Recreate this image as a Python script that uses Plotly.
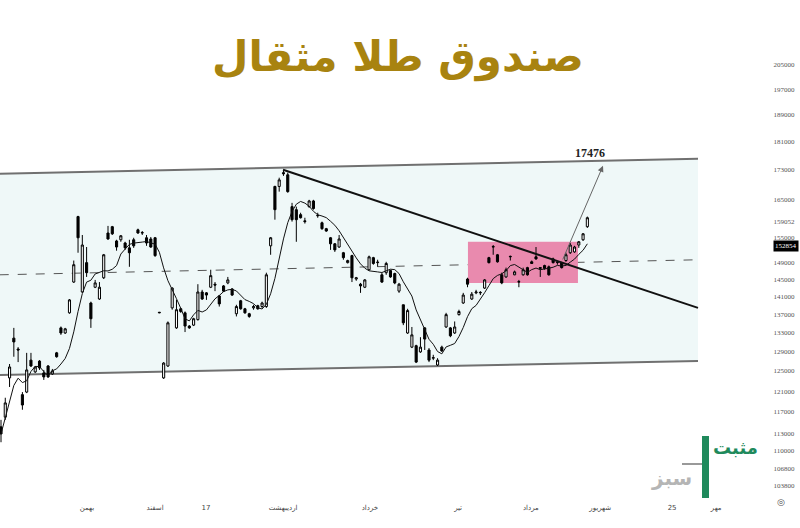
import math
import pandas as pd
import plotly.graph_objects as go

# ---------------- data ----------------
opens = [114200,116000,123600,131800,129500,120300,120800,127200,124800,127000,
         124600,126000,124400,128700,134000,132900,137300,144300,160400,142000,
         148900,139500,143100,140400,145300,156200,157800,154200,154500,153700,
         152500,154500,157000,156200,155000,154700,155000,137300,123600,126000,
         138400,134000,138200,137300,134400,134600,135800,142000,141800,143100,
         143800,141100,143400,144100,142700,137100,140000,138200,137100,138400,
         138900,138700,138700,153000,168400,168400,172200,171600,163000,162200,
         160900,159300,163000,164500,160600,158800,157300,155000,153500,152700,
         151300,148900,150600,145000,143800,143100,147200,150100,148900,146000,
         146500,147000,146300,142200,139100,132900,129900,130200,128900,134000,
         129300,127600,126200,129900,134200,134000,132900,136900,139500,145000,
         140400,141800,141800,142900,150100,152700,150800,146000,145500,150300,
         146000,144300,146000,147700,149100,150300,147500,148200,147900,149800,
         148900,148900,149400,151300,151500,153200,154500,157800]
highs = [115500,119700,126400,134000,129900,120800,128700,128700,126000,127200,
         125200,126200,125400,128900,134300,134000,140400,149400,160600,155700,
         152700,139800,144800,144300,151000,158000,158000,154500,155700,154000,
         154500,155000,157300,156700,155700,155200,155200,137500,126800,135400,
         143100,140200,138400,137600,134600,136200,143800,142500,142000,147200,
         144300,141300,143600,145500,142900,139100,140200,138400,137300,139100,
         139100,139800,146500,155200,168600,170800,173000,172200,164000,163000,
         161400,160100,164800,164800,161400,159100,157500,155200,153700,155700,
         151500,149600,150800,145500,144100,145000,150600,150300,149600,146500,
         149100,147200,146500,144100,139100,138200,134200,130400,132000,134200,
         129700,128300,127600,130200,137300,134200,135400,138000,141800,145300,
         142000,142500,142200,145000,150300,153200,151000,146500,147700,150600,
         147000,144800,147700,147900,149400,152700,147700,148400,148200,150100,
         149100,149100,151300,153700,153000,154200,156200,160400]
lows = [111400,115500,121800,127900,126800,117400,120600,125800,124600,125200,
        123200,123600,124200,127700,132500,132700,137100,144100,151300,141800,
        145500,134000,142900,140200,145000,154500,155700,151800,154000,152000,
        147900,152500,156000,155700,153000,152500,150300,137200,123400,125800,
        138000,133800,137300,133100,133800,134400,135600,140200,140200,142900,
        142200,138700,142000,143800,141100,136500,138000,137100,136200,138000,
        138000,138400,138400,150800,159600,167000,171300,166700,159100,154000,
        159900,158600,162700,162200,160100,157000,156500,152000,151500,152500,
        149600,148700,144300,144600,141800,142900,147000,148400,147900,144100,
        146000,145300,143800,141800,134600,132700,129700,126600,128700,129300,
        126800,127200,126000,128900,134000,132000,132700,136700,139300,143100,
        140200,141500,141300,142700,148700,150800,148900,143800,145300,149400,
        145900,143100,145800,145800,148600,149600,145500,147200,145800,148700,
        148400,147500,149100,151000,151300,152500,154200,157500]
closes = [112900,118700,125800,131000,129300,118300,125200,126000,125800,125600,
          123800,123800,125000,127900,132900,133800,140200,148400,155000,153200,
          146500,136000,144100,143100,150800,154700,156000,152700,155500,152500,
          151300,153000,156200,156300,153700,152700,150600,137400,126600,135100,
          142900,138000,137600,134400,134000,136000,142000,140400,141300,145800,
          143600,139300,142200,144800,141300,138700,138200,137300,136500,138700,
          138200,139500,146000,155000,162200,170200,171900,167000,159600,159600,
          160100,159100,164500,162500,160700,157300,156700,153500,152000,154700,
          150100,149400,145300,145300,143400,144800,150300,148700,149000,144300,
          148700,145500,144100,143800,135100,137800,132500,126800,129900,131600,
          127200,127700,127200,129100,136900,132300,134200,137600,141300,143800,
          141500,142000,141900,144800,148900,152800,149100,144100,147200,150400,
          146700,144400,147200,146000,148700,149800,147700,147500,146000,148900,
          149000,147700,150800,153200,152700,154000,156000,160100]
ma_period = 7

x_tick_pos = [0.5, 20.1, 36.0, 47.9, 65.9, 86.2, 106.8, 123.8, 140.0, 156.8, 167.1]
x_tick_labels = ["1404", "بهمن", "اسفند", "17", "اردیبهشت", "خرداد", "تیر",
                 "مرداد", "شهریور", "25", "مهر"]
y_tick_vals = [205000, 197000, 189000, 181000, 173000, 165000, 159052, 155000,
               149000, 145000, 141000, 137000, 133000, 129000, 125000, 121000,
               117000, 113000, 110000, 106800, 103800]
y_tick_labels = [str(v) for v in y_tick_vals]
last_price = 152854

# drawing tools (index, price)
channel_x = [-0.3, 162.85]
channel_top = [171900, 176100]
channel_bottom = [124200, 127000]
mid_x = [-0.3, 163.3]
mid_y = [146000, 149600]
down_x = [65.9, 162.85]
down_y = [173000, 138400]
box_x = [109.1, 134.8]
box_y = [144100, 154000]
arrow_from = (131.1, 149300)
arrow_to = (140.65, 174100)
target_label = "17476"
target_pos = (137.6, 177800)
title_text = "صندوق طلا مثقال"

# ---------------- figure ----------------
idx = list(range(len(opens)))
ma = pd.Series(closes).rolling(ma_period, min_periods=1).mean()

fig = go.Figure()
fig.add_trace(go.Scatter(
    x=[channel_x[0], channel_x[1], channel_x[1], channel_x[0], channel_x[0]],
    y=[channel_top[0], channel_top[1], channel_bottom[1], channel_bottom[0], channel_top[0]],
    fill="toself", fillcolor="#eff8f8", line=dict(width=0), mode="lines",
    hoverinfo="skip", showlegend=False))
for yy in (channel_top, channel_bottom):
    fig.add_trace(go.Scatter(x=channel_x, y=yy, mode="lines",
                             line=dict(color="#707070", width=2),
                             hoverinfo="skip", showlegend=False))
fig.add_trace(go.Scatter(x=mid_x, y=mid_y, mode="lines",
                         line=dict(color="#555555", width=1, dash="dash"),
                         hoverinfo="skip", showlegend=False))
fig.add_trace(go.Scatter(
    x=[box_x[0], box_x[1], box_x[1], box_x[0], box_x[0]],
    y=[box_y[0], box_y[0], box_y[1], box_y[1], box_y[0]],
    fill="toself", fillcolor="#e98aae", line=dict(width=0), mode="lines",
    hoverinfo="skip", showlegend=False))
fig.add_trace(go.Candlestick(
    x=idx, open=opens, high=highs, low=lows, close=closes, yaxis="y2",
    increasing=dict(line=dict(color="black", width=1), fillcolor="white"),
    decreasing=dict(line=dict(color="black", width=1), fillcolor="black"),
    whiskerwidth=0, showlegend=False))
fig.add_trace(go.Scatter(x=idx, y=ma, mode="lines", yaxis="y2",
                         line=dict(color="#111111", width=1),
                         hoverinfo="skip", showlegend=False))
fig.add_trace(go.Scatter(x=down_x, y=down_y, mode="lines", yaxis="y2",
                         line=dict(color="#111111", width=2),
                         hoverinfo="skip", showlegend=False))

W, H = 800, 528
ml, mr, mt, mb = 0, 32, 0, 30
pw, ph = W - ml - mr, H - mt - mb

def px(x):
    return (x - ml) / pw

def py(y):
    return 1 - (y - mt) / ph

annotations = [
    dict(x=arrow_to[0], y=math.log10(arrow_to[1]), ax=arrow_from[0],
         ay=math.log10(arrow_from[1]), xref="x", yref="y", axref="x", ayref="y",
         text="", showarrow=True, arrowhead=2, arrowsize=1.2, arrowwidth=1,
         arrowcolor="#666666"),
    dict(x=target_pos[0], y=math.log10(target_pos[1]), xref="x", yref="y",
         text="<b>%s</b>" % target_label, showarrow=False,
         font=dict(family="Liberation Serif", size=12, color="#222222")),
    dict(x=px(398), y=py(30), xref="paper", yref="paper", text="<b>%s</b>" % title_text,
         showarrow=False, font=dict(family="DejaVu Sans", size=42, color="#a88310")),
    dict(x=px(773), y=py(246), xref="paper", yref="paper", xanchor="left",
         text=str(last_price), showarrow=False, bgcolor="black", borderpad=1,
         font=dict(family="Liberation Serif", size=7, color="white")),
    dict(x=px(760), y=py(460), xref="paper", yref="paper", text="<b>مثبت</b>",
         showarrow=False, font=dict(family="DejaVu Sans", size=18, color="#1f8a5c")),
    dict(x=px(694), y=py(492), xref="paper", yref="paper", text="<b>سبز</b>",
         showarrow=False, font=dict(family="DejaVu Sans", size=20, color="#b5b5b5")),
    dict(x=px(787), y=py(509), xref="paper", yref="paper", text="◎",
         showarrow=False, font=dict(family="DejaVu Sans", size=9, color="#555555")),
]

shapes = [
    dict(type="rect", xref="paper", yref="paper", x0=px(702), x1=px(709),
         y0=py(498), y1=py(436), fillcolor="#1f8a5c", line=dict(width=0)),
    dict(type="line", xref="paper", yref="paper", x0=px(682), x1=px(702),
         y0=py(464), y1=py(464), line=dict(color="#999999", width=2)),
]

x_range = [-0.234, -0.234 + pw / 4.28]
y_range = [math.log10(101800), math.log10(227600)]

fig.update_layout(
    width=W, height=H,
    margin=dict(l=ml, r=mr, t=mt, b=mb),
    paper_bgcolor="white", plot_bgcolor="white",
    showlegend=False,
    annotations=annotations, shapes=shapes,
    xaxis=dict(range=x_range, showgrid=False, zeroline=False, showline=False,
               automargin=False,
               rangeslider=dict(visible=False), tickmode="array",
               tickvals=x_tick_pos, ticktext=x_tick_labels,
               ticks="outside", ticklen=3, tickcolor="white",
               tickfont=dict(family="DejaVu Sans", size=7, color="#444444")),
    yaxis=dict(type="log", range=y_range, side="right", showgrid=False,
               zeroline=False, showline=False, tickmode="array", automargin=False,
               tickvals=y_tick_vals, ticktext=y_tick_labels,
               ticks="outside", ticklen=3, tickcolor="white",
               tickfont=dict(family="Liberation Serif", size=7, color="#555555")),
    yaxis2=dict(type="log", range=y_range, overlaying="y", side="right",
                showgrid=False, zeroline=False, showline=False,
                showticklabels=False, ticks="", automargin=False),
)

fig.write_html("out.html", config={"displayModeBar": False},
               post_script="document.body.style.margin='0';document.body.style.padding='0';")
